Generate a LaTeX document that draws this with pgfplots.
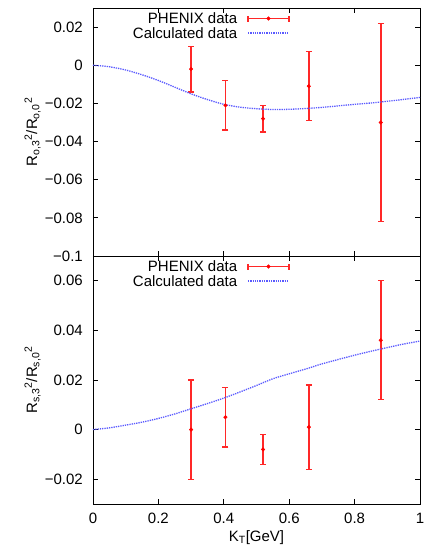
\documentclass[border=0pt]{standalone}
\usepackage{fontspec}
\setmainfont{Liberation Sans}
\usepackage{pgfplots}
\pgfplotsset{compat=1.18}
\definecolor{curveblue}{RGB}{90,90,255}
\definecolor{barred}{RGB}{255,40,40}
\newcommand{\fs}{\fontsize{15bp}{18bp}\selectfont}
\pgfplotsset{
  panel/.style={
    scale only axis, width=327bp, height=248bp,
    xmin=0, xmax=1,
    xtick={0,0.2,0.4,0.6,0.8,1},
    scaled y ticks=false, scaled x ticks=false,
    tick align=inside, major tick length=5bp,
    axis line style={line width=0.8bp},
    every tick/.style={black, line width=0.8bp},
    tick label style={font=\fs},
    yticklabel style={inner sep=0pt, anchor=east, xshift=-10bp},
    xticklabel style={inner sep=0pt, anchor=north, yshift=-8.5bp},
    every axis y label/.style={at={(axis description cs:-0.171,0.5)}, rotate=90, anchor=base, font=\fs},
    every axis x label/.style={at={(axis description cs:0.5,-0.152)}, anchor=base, font=\fs},
    legend style={at={(axis description cs:0.6024,1)}, anchor=north east, yshift=-5bp,
      draw=none, fill=none, inner sep=0pt, font=\fs,
      nodes={inner sep=0pt, text height=10.7bp, text depth=0pt},
      row sep=3.8bp, column sep=10bp},
    legend cell align=right, legend plot pos=right,
  },
  errstyle/.style={red, only marks, mark=*, mark size=1.8bp,
    mark options={fill=red, draw=red},
    legend image code/.code={
    \draw[barred, line width=1.6bp] (0bp,0bp) -- (41bp,0bp) (0bp,-3bp) -- (0bp,3bp) (41bp,-3bp) -- (41bp,3bp);
    \fill[red] (20.5bp,0bp) circle (1.8bp);},
    error bars/.cd, y dir=both, y explicit,
    error bar style={barred, line width=1.6bp, solid},
    error mark options={rotate=90, mark size=3bp, barred, line width=1.2bp}},
  curvelegend/.style={legend image code/.code={
    \draw[curveblue, line width=1.3bp, densely dotted] (0bp,0bp) -- (41bp,0bp);}},
}
\begin{document}
\begin{tikzpicture}
\useasboundingbox (-93bp,-42bp) rectangle (332bp,504bp);
% bottom panel
\begin{axis}[panel, at={(0bp,0bp)}, anchor=south west,
  ymin=-0.03, ymax=0.07,
  ytick={-0.02,0,0.02,0.04,0.06},
  yticklabels={−0.02,0,0.02,0.04,0.06},
  xticklabels={0,0.2,0.4,0.6,0.8,1},
  xlabel={K\textsubscript{T}[GeV]},
  ylabel={R\textsubscript{s,3}\textsuperscript{2}/R\textsubscript{s,0}\textsuperscript{2}}]
\addplot[errstyle] table[x=x, y=y, y error=e] {
x y e
0.300 0.000 0.020
0.405 0.005 0.012
0.520 -0.008 0.006
0.660 0.001 0.017
0.880 0.036 0.024
};
\addlegendentry{PHENIX data}
\addplot[curveblue, line width=1.3bp, densely dotted, smooth, curvelegend] table {
0.00 0.0000
0.05 0.0007
0.10 0.0018
0.15 0.0030
0.20 0.0045
0.25 0.0063
0.30 0.0084
0.35 0.0105
0.40 0.0127
0.45 0.0152
0.50 0.0178
0.55 0.0205
0.60 0.0225
0.66 0.0248
0.70 0.0265
0.80 0.0300
0.88 0.0325
0.95 0.0345
1.00 0.0357
};
\addlegendentry{Calculated data}
\end{axis}
% top panel
\begin{axis}[panel, at={(0bp,248bp)}, anchor=south west,
  ymin=-0.1, ymax=0.03,
  ytick={-0.1,-0.08,-0.06,-0.04,-0.02,0,0.02},
  yticklabels={−0.1,−0.08,−0.06,−0.04,−0.02,0,0.02},
  xticklabels={},
  ylabel={R\textsubscript{o,3}\textsuperscript{2}/R\textsubscript{o,0}\textsuperscript{2}}]
\addplot[errstyle] table[x=x, y=y, y error=e] {
x y e
0.300 -0.002 0.012
0.405 -0.021 0.013
0.520 -0.028 0.007
0.660 -0.011 0.018
0.880 -0.030 0.052
};
\addlegendentry{PHENIX data}
\addplot[curveblue, line width=1.3bp, densely dotted, smooth, curvelegend] table {
0.00 0.0000
0.05 -0.0008
0.10 -0.0025
0.15 -0.0050
0.20 -0.0080
0.25 -0.0115
0.30 -0.0150
0.35 -0.0180
0.40 -0.0205
0.45 -0.0220
0.50 -0.0228
0.55 -0.0232
0.60 -0.0231
0.65 -0.0227
0.70 -0.0221
0.75 -0.0213
0.80 -0.0205
0.85 -0.0198
0.90 -0.0189
0.95 -0.0179
1.00 -0.0169
};
\addlegendentry{Calculated data}
\end{axis}
\end{tikzpicture}
\end{document}
